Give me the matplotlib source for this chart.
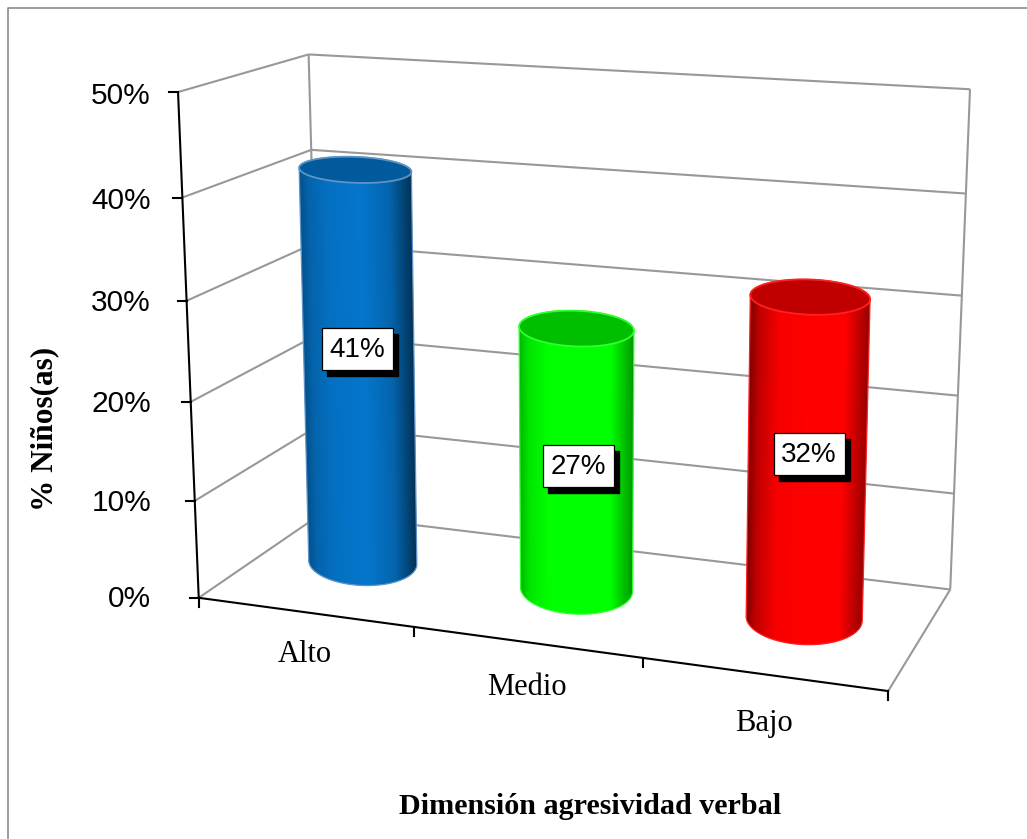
import numpy as np
import matplotlib
matplotlib.use("Agg")
import matplotlib.pyplot as plt
from matplotlib.colors import to_rgb
from matplotlib.patches import Polygon

categories = ["Alto", "Medio", "Bajo"]
values = [0.41, 0.27, 0.32]
value_labels = ["41%", "27%", "32%"]
y_ticks = [0.0, 0.1, 0.2, 0.3, 0.4, 0.5]
y_tick_labels = ["0%", "10%", "20%", "30%", "40%", "50%"]
x_title = "Dimensión agresividad verbal"
y_title = "% Niños(as)"
side_colors = ["#0576CC", "#00FF00", "#FF0000"]
top_colors = ["#005A9C", "#00BE00", "#C00000"]
rim_colors = ["#5F93C8", "#30FF30", "#FF2020"]

# pairs of (category position, value, depth) and pixel position calibrate the 3D view
calib = [((0, 0, 0), (199, 597)), ((3, 0, 0), (889, 692)), ((3, 0, 1), (950, 588)),
         ((0, 0, 1), (322, 517)), ((0, .5, 0), (178, 93)), ((0, .5, 1), (308, 54)),
         ((3, .5, 1), (971, 90)), ((1, 0, 0), (413, 627)), ((2, 0, 0), (642, 660)),
         ((0, .1, 0), (195, 499)), ((0, .2, 0), (191, 400)), ((0, .3, 0), (187, 301)),
         ((0, .4, 0), (182, 198)), ((3, .1, 1), (954, 492)), ((3, .2, 1), (957, 395)),
         ((3, .3, 1), (962, 295)), ((3, .4, 1), (966, 195)), ((0, .4, 1), (311, 149))]
A, b = [], []
for (u, v, w), (x, y) in calib:
    A.append([u, v, w, 1, 0, 0, 0, 0, -x*u, -x*v, -x*w]); b.append(x)
    A.append([0, 0, 0, 0, u, v, w, 1, -y*u, -y*v, -y*w]); b.append(y)
p = np.linalg.lstsq(np.array(A, float), np.array(b, float), rcond=None)[0]
P = np.append(p, 1.0).reshape(3, 4)


def proj(u, v, w):
    h = P @ np.array([u, v, w, 1.0])
    return h[0] / h[2], h[1] / h[2]


fig = plt.figure(figsize=(10.27, 8.39), dpi=100, facecolor="white")
ax = fig.add_axes([0, 0, 1, 1])
GRID = "#989898"


def seg(a, b, color=GRID, lw=1.5, z=1):
    xa, ya = proj(*a)
    xb, yb = proj(*b)
    ax.plot([xa, xb], [ya, yb], color=color, lw=lw, zorder=z, solid_capstyle="butt")


# chart frame
ax.plot([8, 8, 1027], [839, 8, 8], color="#8C8C8C", lw=1.2, zorder=0)

# walls and gridlines
for t in y_ticks:
    seg((0, t, 0), (0, t, 1))
    seg((0, t, 1), (3, t, 1))
seg((0, 0, 1), (0, .5, 1))
seg((3, 0, 1), (3, .5, 1))
seg((3, 0, 0), (3, 0, 1))

# axes in black
seg((0, 0, 0), (0, .5, 0), color="black", z=2)
seg((0, 0, 0), (3, 0, 0), color="black", z=2)
for t, lab in zip(y_ticks, y_tick_labels):
    x, y = proj(0, t, 0)
    ax.plot([x - 9, x], [y, y], color="black", lw=1.5, zorder=2)
    ax.text(151, y + 1.5 + 4 * t, lab, ha="right", va="center", fontsize=21.5, family="Liberation Sans", color="black")
for i in range(4):
    x, y = proj(i, 0, 0)
    ax.plot([x, x], [y, y + 9], color="black", lw=1.5, zorder=2)
for i, c in enumerate(categories):
    x, y = proj(i + .5, 0, 0)
    ax.text(x, y + 42 + 3.5 * i, c, ha="center", va="center", fontsize=22, family="Liberation Serif")

# cylinders
theta = np.linspace(0, 2 * np.pi, 241)
half = 120
RW, CW_BASE, CW_TOP = 0.27, 0.54, 0.50
TILT = 0.035
stops = [0, .08, .25, .55, .8, 1]
shades = [[.68, .84, .95, 1.0, .85, .42], [.72, .9, 1, 1, 1, .6], [.5, .75, .97, 1, 1, .6]]
label_dx = [-2, 1.5, 2]
label_dy = [-17.5, 6.5, -3.5]


def ellipse(cu, val, cw, ru):
    cx, cy = proj(cu, val, cw)
    a = (proj(cu + ru, val, cw)[0] - proj(cu - ru, val, cw)[0]) / 2
    bb = (proj(cu, val, cw - RW)[1] - proj(cu, val, cw + RW)[1]) / 2
    ex = cx + a * np.cos(theta)
    ey = cy + bb * np.sin(theta) + TILT * a * np.cos(theta)
    return cx, cy, a, bb, ex, ey


for i, val in enumerate(values):
    ru = 0.262 - 0.007 * i
    cxb, cyb, ab, bb, xb, yb = ellipse(i + .5 - .030 + .0125 * i, 0.0, CW_BASE, ru + .002)
    cxt, cyt, at, bt, xt, yt = ellipse(i + .5, val, CW_TOP, ru)
    body = np.r_[np.c_[xb[:half + 1], yb[:half + 1]], np.c_[xt[half:], yt[half:]]]
    ax.add_patch(Polygon(body, closed=True, fc="none", ec=rim_colors[i], lw=.9, zorder=4))
    # side shading: a horizontal gradient that follows the lean of the cylinder
    y0, y1 = body[:, 1].min() - 1, body[:, 1].max() + 1
    x0, x1 = body[:, 0].min() - 1, body[:, 0].max() + 1
    rows = np.linspace(y0, y1, 300)
    cols = np.linspace(x0, x1, 300)
    f = np.clip((rows - cyt) / (cyb - cyt), 0, 1)[:, None]
    left = cxt - at + f * ((cxb - ab) - (cxt - at))
    right = cxt + at + f * ((cxb + ab) - (cxt + at))
    tt = np.clip((cols[None, :] - left) / (right - left), 0, 1)
    img = np.clip(np.interp(tt, stops, shades[i])[..., None] * np.array(to_rgb(side_colors[i])), 0, 1)
    im = ax.imshow(img, extent=(x0, x1, y1, y0), origin="upper", aspect="auto", interpolation="bilinear", zorder=3)
    im.set_clip_path(Polygon(body, closed=True, transform=ax.transData))
    ax.add_patch(Polygon(np.c_[xt, yt], closed=True, fc=top_colors[i], ec=rim_colors[i], lw=1.3, zorder=5))
    # data label with a hard shadow
    lx, ly = (cxt + cxb) / 2 + label_dx[i], (cyt + cyb) / 2 + label_dy[i]
    w, h = 35.5, 21
    ax.add_patch(plt.Rectangle((lx - w + 5, ly - h + 6), 2 * w, 2 * h, fc="black", ec="black", zorder=6))
    ax.add_patch(plt.Rectangle((lx - w, ly - h), 2 * w, 2 * h, fc="white", ec="black", lw=.9, zorder=7))
    ax.text(lx, ly + 1, value_labels[i], ha="center", va="center", fontsize=20, family="Liberation Sans", zorder=8)

ax.text(590, 806, x_title, ha="center", va="center", fontsize=21.7, fontweight="bold", family="Liberation Serif")
ax.text(45, 429, y_title, ha="center", va="center", rotation=90, fontsize=22.5, fontweight="bold", family="Liberation Serif")

ax.set_xlim(0, 1027)
ax.set_ylim(839, 0)
ax.axis("off")
fig.savefig("out.png", dpi=100)
